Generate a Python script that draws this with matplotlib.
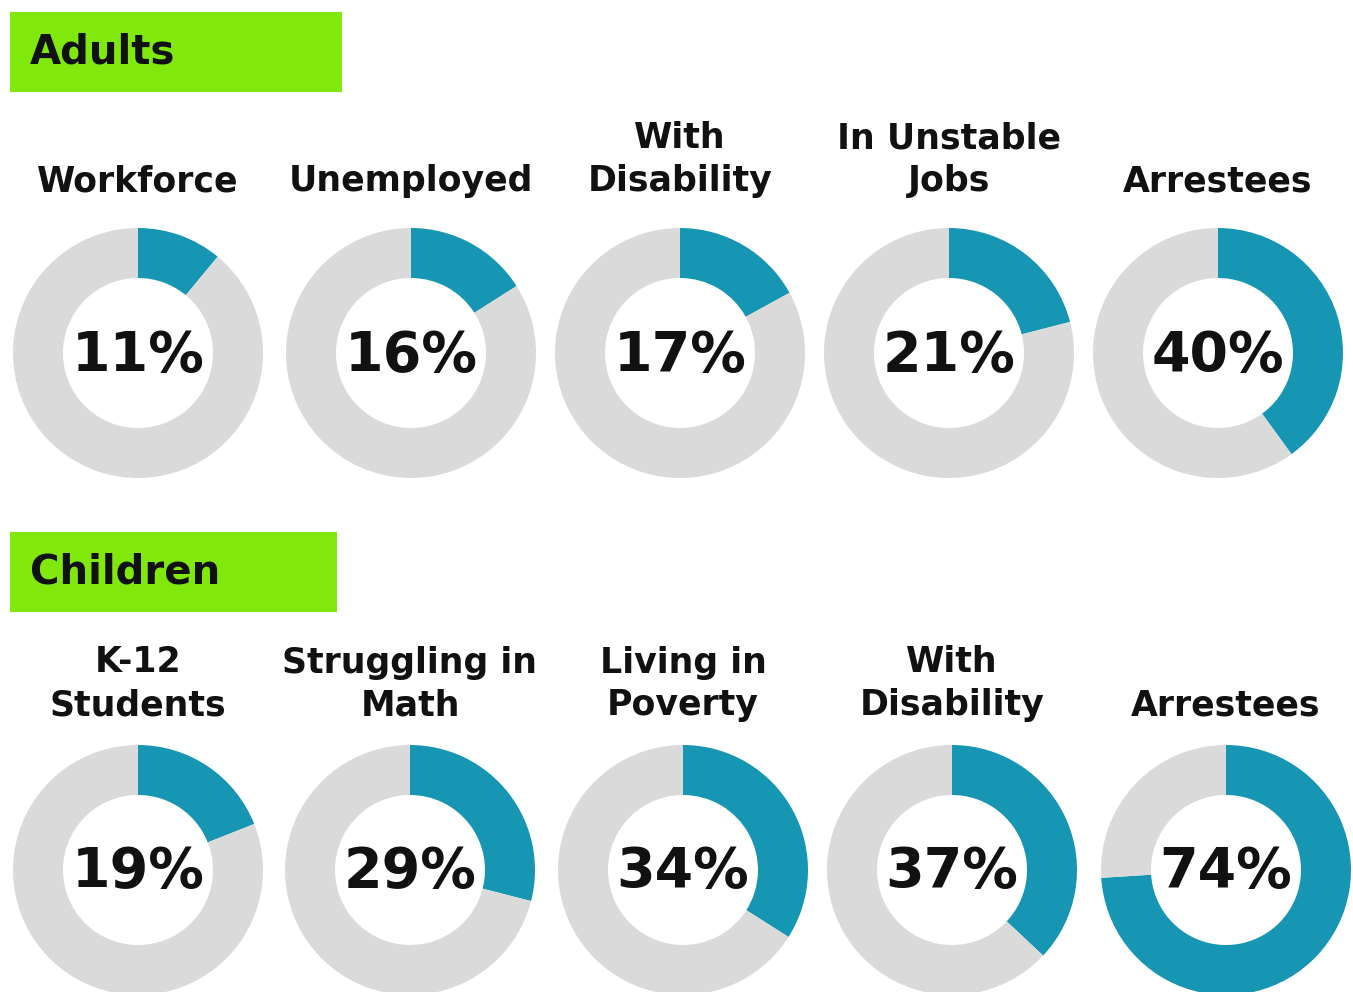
import matplotlib.pyplot as plt
from matplotlib.patches import Rectangle

# shares in percent for each group
adult_labels = ["Workforce", "Unemployed", "With\nDisability", "In Unstable\nJobs", "Arrestees"]
adult_values = [11, 16, 17, 21, 40]
child_labels = ["K-12\nStudents", "Struggling in\nMath", "Living in\nPoverty", "With\nDisability", "Arrestees"]
child_values = [19, 29, 34, 37, 74]

TEAL = "#1796b4"
GREY = "#dadada"
GREEN = "#80e80c"
INK = "#111111"

W, H = 1353, 992
fig = plt.figure(figsize=(W / 100, H / 100), dpi=100)
fig.patch.set_facecolor("white")

# full-figure overlay in pixel units for headers and titles
bg = fig.add_axes([0, 0, 1, 1])
bg.set_xlim(0, W)
bg.set_ylim(H, 0)
bg.axis("off")

R = 125


def header(y0, width, text):
    bg.add_patch(Rectangle((10, y0), width, 80, color=GREEN, lw=0))
    bg.text(30, y0 + 40, text, ha="left", va="center", fontsize=29,
            fontweight="bold", color=INK)


def donut(cx, cy, pct):
    ax = fig.add_axes([(cx - R) / W, 1 - (cy + R) / H, 2 * R / W, 2 * R / H])
    ax.pie([pct, 100 - pct], colors=[TEAL, GREY], startangle=90, counterclock=False,
           radius=1, wedgeprops=dict(width=0.4, linewidth=0))
    ax.set_xlim(-1, 1)
    ax.set_ylim(-1, 1)
    ax.set_aspect("equal")
    ax.text(0, -0.02, f"{pct}%", ha="center", va="center", fontsize=40,
            fontweight="bold", color=INK)


def title(cx, y_last, label):
    lines = label.split("\n")
    for i, line in enumerate(reversed(lines)):
        bg.text(cx, y_last - 43 * i, line, ha="center", va="center_baseline",
                fontsize=25, fontweight="bold", color=INK)


header(12, 332, "Adults")
header(532, 327, "Children")

top_x = [138, 411, 680, 949, 1218]
bot_x = [138, 410, 683, 952, 1226]

for cx, lab, v in zip(top_x, adult_labels, adult_values):
    title(cx, 178, lab)
    donut(cx, 353, v)

for cx, lab, v in zip(bot_x, child_labels, child_values):
    title(cx, 702, lab)
    donut(cx, 870, v)

fig.savefig("out.png", dpi=100, facecolor="white")
